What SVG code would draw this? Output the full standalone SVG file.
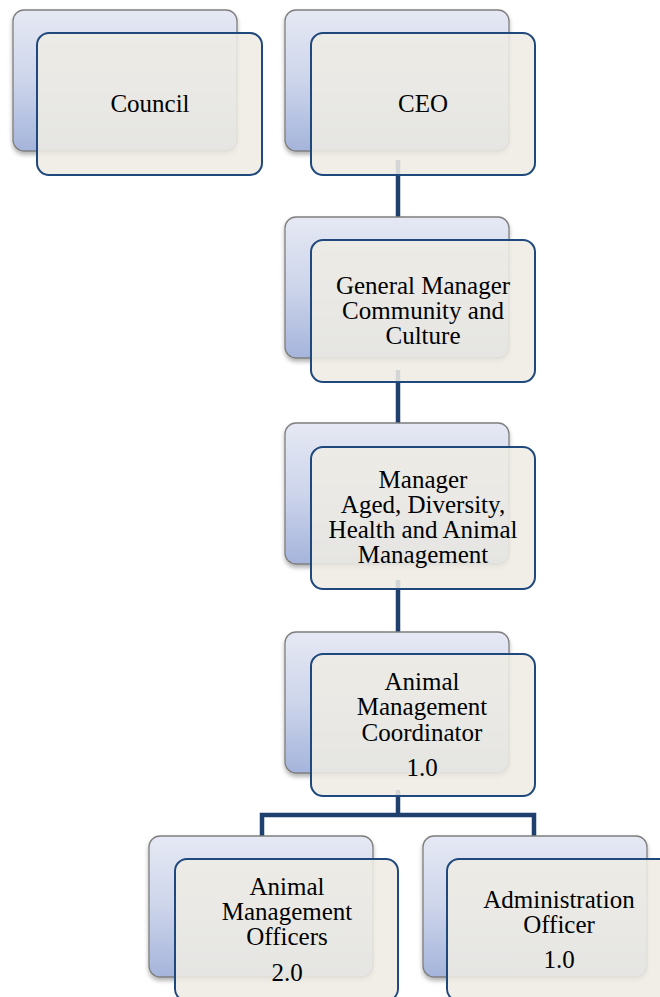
<svg xmlns="http://www.w3.org/2000/svg" width="660" height="997" viewBox="0 0 660 997">
<defs>
<linearGradient id="bg" x1="0" y1="0" x2="0" y2="1">
<stop offset="0" stop-color="#E6E9F4"/>
<stop offset="0.5" stop-color="#CDD5EB"/>
<stop offset="1" stop-color="#A5B4DB"/>
</linearGradient>
<filter id="sh" x="-10%" y="-10%" width="120%" height="125%">
<feDropShadow dx="0" dy="3" stdDeviation="2" flood-color="#000" flood-opacity="0.3"/>
</filter>
<style>
.back{fill:url(#bg);stroke:#7F7F7F;stroke-width:1.3;filter:url(#sh)}
.front{fill:#EEECE4;fill-opacity:0.88;stroke:#1F497D;stroke-width:2}
.conn{fill:none;stroke:#1F3F6E;stroke-width:4.5}
text{font-family:"Liberation Serif","Times New Roman",serif;font-size:25px;fill:#000;text-anchor:middle}
</style>
</defs>
<rect width="660" height="997" fill="#fff"/>
<g id="connectors">
<path class="conn" d="M398,160 V240 M398,370 V450 M398,580 V660 M398,790 V815 M262,836 V815 H534 V836"/>
</g>
<g id="council">
<rect class="back" x="13" y="10" width="224" height="141" rx="11"/>
<rect class="front" x="37" y="33" width="225" height="142" rx="12"/>
<text x="150" y="112">Council</text>
</g>
<g id="ceo">
<rect class="back" x="285" y="10" width="224" height="141" rx="11"/>
<rect class="front" x="311" y="33" width="224" height="142" rx="12"/>
<text x="423" y="112">CEO</text>
</g>
<g id="gm">
<rect class="back" x="285" y="217" width="224" height="141" rx="11"/>
<rect class="front" x="311" y="240" width="224" height="142" rx="12"/>
<text x="423" y="294">General Manager</text>
<text x="423" y="319">Community and</text>
<text x="423" y="344">Culture</text>
</g>
<g id="manager">
<rect class="back" x="285" y="423" width="224" height="141" rx="11"/>
<rect class="front" x="311" y="447" width="224" height="142" rx="12"/>
<text x="423" y="488">Manager</text>
<text x="423" y="513">Aged, Diversity,</text>
<text x="423" y="538">Health and Animal</text>
<text x="423" y="563">Management</text>
</g>
<g id="coordinator">
<rect class="back" x="285" y="632" width="224" height="141" rx="11"/>
<rect class="front" x="311" y="654" width="224" height="142" rx="12"/>
<text x="422" y="690">Animal</text>
<text x="422" y="715">Management</text>
<text x="422" y="741">Coordinator</text>
<text x="422" y="776">1.0</text>
</g>
<g id="officers">
<rect class="back" x="149" y="836" width="224" height="141" rx="11"/>
<rect class="front" x="175" y="859" width="223" height="142" rx="12"/>
<text x="287" y="895">Animal</text>
<text x="287" y="920">Management</text>
<text x="287" y="945">Officers</text>
<text x="287" y="981">2.0</text>
</g>
<g id="admin">
<rect class="back" x="423" y="836" width="224" height="141" rx="11"/>
<rect class="front" x="447" y="859" width="224" height="142" rx="12"/>
<text x="559" y="908">Administration</text>
<text x="559" y="933">Officer</text>
<text x="559" y="968">1.0</text>
</g>
</svg>
